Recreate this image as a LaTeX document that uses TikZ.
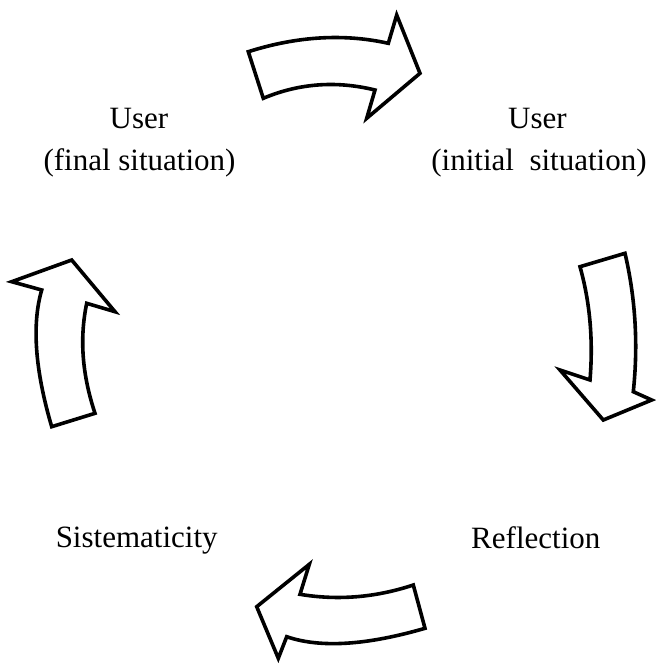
\documentclass[tikz,border=0pt]{standalone}
\usepackage{fontspec}
\setmainfont{Liberation Serif}
\begin{document}
\begin{tikzpicture}[x=1pt,y=-1pt,
  bigarrow/.style={draw=black,line width=3.6pt,fill=white,line join=miter},
  lbl/.style={anchor=base,inner sep=0pt,font=\fontsize{31}{37}\selectfont}]
\useasboundingbox (0,0) rectangle (656,665);
% top arrow (pointing right)
\draw[bigarrow] (248.3,51.7) .. controls (297.2,36.2) and (343.9,33.4) .. (388.3,43.3)
  -- (396.7,15) -- (420,73.3) -- (366.7,118.3) -- (375,90)
  .. controls (336.2,80.5) and (298.9,83.3) .. (263.3,98.3) -- cycle;
% right arrow (pointing down)
\draw[bigarrow] (580,266.7) -- (625,253.3)
  .. controls (635.5,298.4) and (638.3,344.5) .. (633.3,391.7)
  -- (651.7,400) -- (603.3,420) -- (560,370) -- (590,380)
  .. controls (593.3,340.1) and (590,302.3) .. (580,266.7) -- cycle;
% bottom arrow (pointing left)
\draw[bigarrow] (413.3,585) .. controls (375.5,597.5) and (337.8,600.6) .. (300,594.3)
  -- (309.3,564.3) -- (256.7,606.7) -- (278.3,658.3) -- (286.7,636.7)
  .. controls (320.6,648.3) and (366.7,645.2) .. (425,628.3) -- cycle;
% left arrow (pointing up)
\draw[bigarrow] (51.7,426.7) -- (95,413.3)
  .. controls (82.1,374.5) and (79.4,338.6) .. (86.7,303.3)
  -- (115,311.7) -- (71.7,260) -- (11.7,281.7) -- (41.7,290)
  .. controls (31.7,324.4) and (35,370) .. (51.7,426.7) -- cycle;
% labels
\node[lbl] (ufinal) at (139,128) {User};
\node[lbl] (final) at (139.5,170) {(final situation)};
\node[lbl] (uinit) at (537.5,128) {User};
\node[lbl] (init) at (539,170) {(initial\hspace{0.5em}situation)};
\node[lbl] (sist) at (136.7,547.5) {Sistematicity};
\node[lbl] (refl) at (535.8,548) {Reflection};
\end{tikzpicture}
\end{document}
